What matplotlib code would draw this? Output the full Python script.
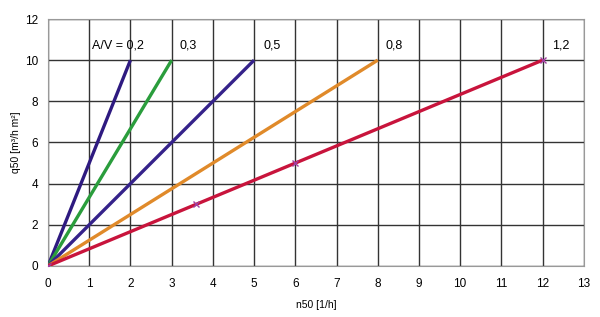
import matplotlib
matplotlib.use("Agg")
import matplotlib.pyplot as plt

# A/V ratio series: q50 = n50 / (A/V)
av_labels = ["A/V = 0,2", "0,3", "0,5", "0,8", "1,2"]
n50_end = [2, 3, 5, 8, 12]
q50_end = [10, 10, 10, 10, 10]
colors = ["#2e1a80", "#2a9d3c", "#35228a", "#e08a2a", "#c8143c"]
label_x = [1.07, 3.2, 5.22, 8.18, 12.23]
label_y = [10.7, 10.7, 10.7, 10.7, 10.7]

# marked points on the 1,2 line
mark_n50 = [0, 3.6, 6, 12]
mark_q50 = [0, 3, 5, 10]

plt.rcParams['font.family'] = ['Liberation Sans', 'DejaVu Sans']

fig, ax = plt.subplots(figsize=(6, 3.17), dpi=100)
fig.subplots_adjust(left=0.08, right=0.973, bottom=0.161, top=0.94)

for xe, ye, c in zip(n50_end, q50_end, colors):
    ax.plot([0, xe], [0, ye], color=c, lw=2.4, solid_capstyle='butt', zorder=3)

ax.plot(mark_n50, mark_q50, ls='none', marker='x', color='#a040a0', ms=5, mew=1, zorder=4)

for t, x, y in zip(av_labels, label_x, label_y):
    ax.text(x, y, t, fontsize=9, ha='left', va='center')

ax.set_xlim(0, 13)
ax.set_ylim(0, 12)
ax.set_xticks(range(0, 14))
ax.set_yticks(range(0, 13, 2))
ax.grid(True, color='#333333', lw=1)
ax.set_axisbelow(True)
for s in ax.spines.values():
    s.set_color('#999999')
ax.tick_params(length=0, labelsize=8.5, pad=9)
ax.tick_params(axis='y', pad=7)

ax.set_xlabel("n50 [1/h]", fontsize=7.5, labelpad=7)
ax.set_ylabel("q50 [m³/h m²]", fontsize=7.5, labelpad=3)

fig.savefig("out.png")
